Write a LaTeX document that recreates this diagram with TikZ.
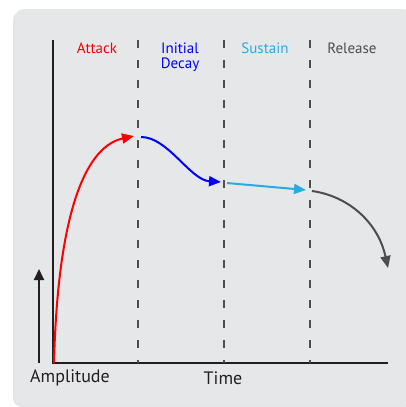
\documentclass[tikz,border=0pt]{standalone}
\usepackage{fontspec}
\setmainfont{PT Sans}
\usetikzlibrary{arrows.meta}
\definecolor{panel}{HTML}{E6E7E9}
\definecolor{axis}{HTML}{231F20}
\definecolor{sustain}{HTML}{29ABE2}
\definecolor{release}{HTML}{4D4D4D}
\tikzset{
  phase/.style={font=\fontsize{15}{15}\selectfont, align=center, anchor=north},
  divider/.style={draw=release, line width=1.2pt, dash pattern=on 8pt off 12pt},
  curve/.style={line width=2pt, -{Triangle[length=12pt,width=10pt]}},
  axislabel/.style={font=\fontsize{18}{18}\selectfont, text=axis}
}
\begin{document}
\begin{tikzpicture}[x=1pt, y=-1pt]
\useasboundingbox (0, 0) rectangle (406, 407);
\fill[black!10, rounded corners=9pt] (13, 11) rectangle (412, 407);
\fill[panel, rounded corners=9pt] (15, 9) rectangle (412, 405);
% axes
\coordinate (origin) at (53, 363);
\coordinate (ytop) at (53, 40);
\coordinate (xend) at (388, 363);
\draw[axis, line width=2.4pt] (ytop) -- (origin) -- (xend);
% phase dividers
\coordinate (d1top) at (138, 40);
\coordinate (d1bot) at (138, 363);
\coordinate (d2top) at (224, 40);
\coordinate (d2bot) at (224, 363);
\coordinate (d3top) at (310, 40);
\coordinate (d3bot) at (310, 363);
\draw[divider] (d1top) -- (d1bot);
\draw[divider] (d2top) -- (d2bot);
\draw[divider] (d3top) -- (d3bot);
% phase labels
\node[phase, text=red] (attack) at (97, 39) {Attack};
\node[phase, text=blue] (decay) at (180, 39) {Initial\\Decay};
\node[phase, text=sustain] (sustainlbl) at (265, 39) {Sustain};
\node[phase, text=release] (releaselbl) at (352, 39) {Release};
% envelope
\coordinate (start) at (54, 363);
\coordinate (peak) at (134, 136);
\coordinate (decaystart) at (141, 137);
\coordinate (decayend) at (221, 182);
\coordinate (susstart) at (227, 183);
\coordinate (susend) at (306, 190);
\coordinate (relstart) at (312, 191);
\coordinate (relend) at (388, 268);
\draw[curve, red] (start) .. controls (58, 205) and (88, 146) .. (peak);
\draw[curve, blue] (decaystart) .. controls (168, 137) and (190, 180) .. (decayend);
\draw[curve, sustain] (susstart) -- (susend);
\draw[curve, release] (relstart) .. controls (348, 196) and (378, 222) .. (relend);
% amplitude arrow
\coordinate (ampbot) at (39, 363);
\coordinate (amptop) at (39, 269);
\draw[axis, line width=2pt, -{Triangle[length=11pt,width=10pt]}] (ampbot) -- (amptop);
\node[axislabel] (amplitude) at (70, 378) {Amplitude};
\node[axislabel] (time) at (223, 378) {Time};
\end{tikzpicture}
\end{document}
